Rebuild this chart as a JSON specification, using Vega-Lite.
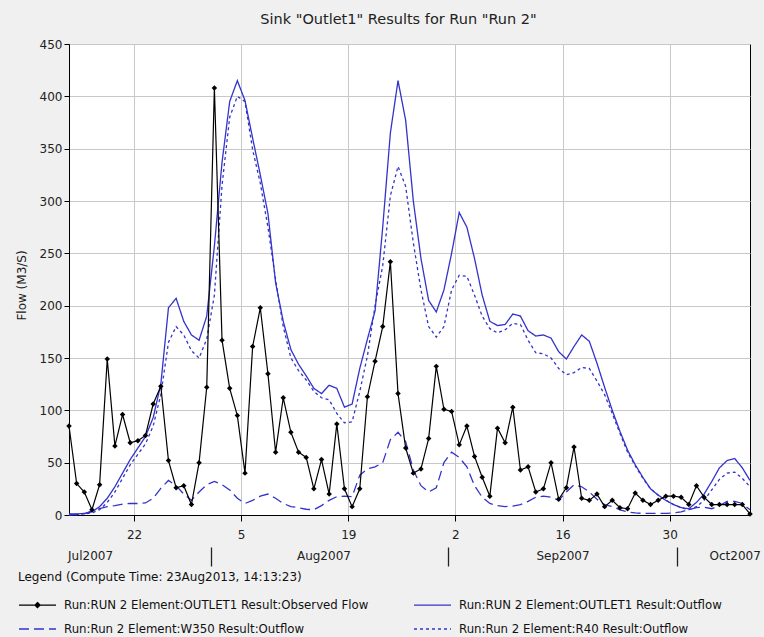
{
"$schema":"https://vega.github.io/schema/vega-lite/v6.json",
"width":681,"height":471,
"autosize":{"type":"none"},
"padding":{"left":69,"top":44,"right":14,"bottom":122},
"background":"#f0f0f0",
"title":{"text":"Sink \"Outlet1\" Results for Run \"Run 2\"","fontSize":14.5,"fontWeight":"normal","font":"DejaVu Sans","color":"#222","frame":"group","anchor":"middle","offset":11,"dx":-11},
"data":{"values":[
{"t":"2007-07-13T12:00","s":"obs","v":85},{"t":"2007-07-14T12:00","s":"obs","v":30},{"t":"2007-07-15T12:00","s":"obs","v":22},{"t":"2007-07-16T12:00","s":"obs","v":5},{"t":"2007-07-17T12:00","s":"obs","v":29},{"t":"2007-07-18T12:00","s":"obs","v":149},{"t":"2007-07-19T12:00","s":"obs","v":66},{"t":"2007-07-20T12:00","s":"obs","v":96},{"t":"2007-07-21T12:00","s":"obs","v":69},{"t":"2007-07-22T12:00","s":"obs","v":71},
{"t":"2007-07-23T12:00","s":"obs","v":76},{"t":"2007-07-24T12:00","s":"obs","v":106},{"t":"2007-07-25T12:00","s":"obs","v":123},{"t":"2007-07-26T12:00","s":"obs","v":52},{"t":"2007-07-27T12:00","s":"obs","v":26},{"t":"2007-07-28T12:00","s":"obs","v":28},{"t":"2007-07-29T12:00","s":"obs","v":10},{"t":"2007-07-30T12:00","s":"obs","v":50},{"t":"2007-07-31T12:00","s":"obs","v":122},{"t":"2007-08-01T12:00","s":"obs","v":408},
{"t":"2007-08-02T12:00","s":"obs","v":167},{"t":"2007-08-03T12:00","s":"obs","v":121},{"t":"2007-08-04T12:00","s":"obs","v":95},{"t":"2007-08-05T12:00","s":"obs","v":40},{"t":"2007-08-06T12:00","s":"obs","v":161},{"t":"2007-08-07T12:00","s":"obs","v":198},{"t":"2007-08-08T12:00","s":"obs","v":135},{"t":"2007-08-09T12:00","s":"obs","v":60},{"t":"2007-08-10T12:00","s":"obs","v":112},{"t":"2007-08-11T12:00","s":"obs","v":79},
{"t":"2007-08-12T12:00","s":"obs","v":60},{"t":"2007-08-13T12:00","s":"obs","v":55},{"t":"2007-08-14T12:00","s":"obs","v":25},{"t":"2007-08-15T12:00","s":"obs","v":53},{"t":"2007-08-16T12:00","s":"obs","v":20},{"t":"2007-08-17T12:00","s":"obs","v":87},{"t":"2007-08-18T12:00","s":"obs","v":25},{"t":"2007-08-19T12:00","s":"obs","v":8},{"t":"2007-08-20T12:00","s":"obs","v":25},{"t":"2007-08-21T12:00","s":"obs","v":113},
{"t":"2007-08-22T12:00","s":"obs","v":147},{"t":"2007-08-23T12:00","s":"obs","v":180},{"t":"2007-08-24T12:00","s":"obs","v":242},{"t":"2007-08-25T12:00","s":"obs","v":116},{"t":"2007-08-26T12:00","s":"obs","v":64},{"t":"2007-08-27T12:00","s":"obs","v":40},{"t":"2007-08-28T12:00","s":"obs","v":44},{"t":"2007-08-29T12:00","s":"obs","v":73},{"t":"2007-08-30T12:00","s":"obs","v":142},{"t":"2007-08-31T12:00","s":"obs","v":101},
{"t":"2007-09-01T12:00","s":"obs","v":99},{"t":"2007-09-02T12:00","s":"obs","v":67},{"t":"2007-09-03T12:00","s":"obs","v":85},{"t":"2007-09-04T12:00","s":"obs","v":56},{"t":"2007-09-05T12:00","s":"obs","v":36},{"t":"2007-09-06T12:00","s":"obs","v":18},{"t":"2007-09-07T12:00","s":"obs","v":83},{"t":"2007-09-08T12:00","s":"obs","v":69},{"t":"2007-09-09T12:00","s":"obs","v":103},{"t":"2007-09-10T12:00","s":"obs","v":43},
{"t":"2007-09-11T12:00","s":"obs","v":46},{"t":"2007-09-12T12:00","s":"obs","v":22},{"t":"2007-09-13T12:00","s":"obs","v":25},{"t":"2007-09-14T12:00","s":"obs","v":50},{"t":"2007-09-15T12:00","s":"obs","v":15},{"t":"2007-09-16T12:00","s":"obs","v":26},{"t":"2007-09-17T12:00","s":"obs","v":65},{"t":"2007-09-18T12:00","s":"obs","v":16},{"t":"2007-09-19T12:00","s":"obs","v":14},{"t":"2007-09-20T12:00","s":"obs","v":20},
{"t":"2007-09-21T12:00","s":"obs","v":8},{"t":"2007-09-22T12:00","s":"obs","v":14},{"t":"2007-09-23T12:00","s":"obs","v":7},{"t":"2007-09-24T12:00","s":"obs","v":6},{"t":"2007-09-25T12:00","s":"obs","v":21},{"t":"2007-09-26T12:00","s":"obs","v":14},{"t":"2007-09-27T12:00","s":"obs","v":10},{"t":"2007-09-28T12:00","s":"obs","v":14},{"t":"2007-09-29T12:00","s":"obs","v":18},{"t":"2007-09-30T12:00","s":"obs","v":18},
{"t":"2007-10-01T12:00","s":"obs","v":17},{"t":"2007-10-02T12:00","s":"obs","v":10},{"t":"2007-10-03T12:00","s":"obs","v":28},{"t":"2007-10-04T12:00","s":"obs","v":17},{"t":"2007-10-05T12:00","s":"obs","v":10},{"t":"2007-10-06T12:00","s":"obs","v":10},{"t":"2007-10-07T12:00","s":"obs","v":10},{"t":"2007-10-08T12:00","s":"obs","v":10},{"t":"2007-10-09T12:00","s":"obs","v":10},{"t":"2007-10-10T12:00","s":"obs","v":1},

{"t":"2007-07-13T12:00","s":"out","v":1},{"t":"2007-07-14T12:00","s":"out","v":1},{"t":"2007-07-15T12:00","s":"out","v":1.5},{"t":"2007-07-16T12:00","s":"out","v":3},{"t":"2007-07-17T12:00","s":"out","v":8},{"t":"2007-07-18T12:00","s":"out","v":16},{"t":"2007-07-19T12:00","s":"out","v":27},{"t":"2007-07-20T12:00","s":"out","v":40},{"t":"2007-07-21T12:00","s":"out","v":53},{"t":"2007-07-22T12:00","s":"out","v":64},
{"t":"2007-07-23T12:00","s":"out","v":75},{"t":"2007-07-24T12:00","s":"out","v":93},{"t":"2007-07-25T12:00","s":"out","v":125},{"t":"2007-07-26T12:00","s":"out","v":198},{"t":"2007-07-27T12:00","s":"out","v":207},{"t":"2007-07-28T12:00","s":"out","v":185},{"t":"2007-07-29T12:00","s":"out","v":172},{"t":"2007-07-30T12:00","s":"out","v":167},{"t":"2007-07-31T12:00","s":"out","v":190},{"t":"2007-08-01T12:00","s":"out","v":257},
{"t":"2007-08-02T12:00","s":"out","v":337},{"t":"2007-08-03T12:00","s":"out","v":395},{"t":"2007-08-04T12:00","s":"out","v":415},{"t":"2007-08-05T12:00","s":"out","v":396},{"t":"2007-08-06T12:00","s":"out","v":360},{"t":"2007-08-07T12:00","s":"out","v":325},{"t":"2007-08-08T12:00","s":"out","v":288},{"t":"2007-08-09T12:00","s":"out","v":222},{"t":"2007-08-10T12:00","s":"out","v":185},{"t":"2007-08-11T12:00","s":"out","v":158},
{"t":"2007-08-12T12:00","s":"out","v":144},{"t":"2007-08-13T12:00","s":"out","v":133},{"t":"2007-08-14T12:00","s":"out","v":121},{"t":"2007-08-15T12:00","s":"out","v":116},{"t":"2007-08-16T12:00","s":"out","v":124},{"t":"2007-08-17T12:00","s":"out","v":121},{"t":"2007-08-18T12:00","s":"out","v":103},{"t":"2007-08-19T12:00","s":"out","v":106},{"t":"2007-08-20T12:00","s":"out","v":140},{"t":"2007-08-21T12:00","s":"out","v":168},
{"t":"2007-08-22T12:00","s":"out","v":195},{"t":"2007-08-23T12:00","s":"out","v":275},{"t":"2007-08-24T12:00","s":"out","v":365},{"t":"2007-08-25T12:00","s":"out","v":415},{"t":"2007-08-26T12:00","s":"out","v":377},{"t":"2007-08-27T12:00","s":"out","v":300},{"t":"2007-08-28T12:00","s":"out","v":245},{"t":"2007-08-29T12:00","s":"out","v":205},{"t":"2007-08-30T12:00","s":"out","v":194},{"t":"2007-08-31T12:00","s":"out","v":215},
{"t":"2007-09-01T12:00","s":"out","v":250},{"t":"2007-09-02T12:00","s":"out","v":289},{"t":"2007-09-03T12:00","s":"out","v":275},{"t":"2007-09-04T12:00","s":"out","v":245},{"t":"2007-09-05T12:00","s":"out","v":210},{"t":"2007-09-06T12:00","s":"out","v":185},{"t":"2007-09-07T12:00","s":"out","v":181},{"t":"2007-09-08T12:00","s":"out","v":182},{"t":"2007-09-09T12:00","s":"out","v":192},{"t":"2007-09-10T12:00","s":"out","v":190},
{"t":"2007-09-11T12:00","s":"out","v":176},{"t":"2007-09-12T12:00","s":"out","v":171},{"t":"2007-09-13T12:00","s":"out","v":172},{"t":"2007-09-14T12:00","s":"out","v":169},{"t":"2007-09-15T12:00","s":"out","v":156},{"t":"2007-09-16T12:00","s":"out","v":149},{"t":"2007-09-17T12:00","s":"out","v":161},{"t":"2007-09-18T12:00","s":"out","v":172},{"t":"2007-09-19T12:00","s":"out","v":166},{"t":"2007-09-20T12:00","s":"out","v":145},
{"t":"2007-09-21T12:00","s":"out","v":122},{"t":"2007-09-22T12:00","s":"out","v":100},{"t":"2007-09-23T12:00","s":"out","v":80},{"t":"2007-09-24T12:00","s":"out","v":62},{"t":"2007-09-25T12:00","s":"out","v":48},{"t":"2007-09-26T12:00","s":"out","v":36},{"t":"2007-09-27T12:00","s":"out","v":25},{"t":"2007-09-28T12:00","s":"out","v":19},{"t":"2007-09-29T12:00","s":"out","v":14},{"t":"2007-09-30T12:00","s":"out","v":10},
{"t":"2007-10-01T12:00","s":"out","v":7},{"t":"2007-10-02T12:00","s":"out","v":6},{"t":"2007-10-03T12:00","s":"out","v":12},{"t":"2007-10-04T12:00","s":"out","v":20},{"t":"2007-10-05T12:00","s":"out","v":32},{"t":"2007-10-06T12:00","s":"out","v":45},{"t":"2007-10-07T12:00","s":"out","v":52},{"t":"2007-10-08T12:00","s":"out","v":54},{"t":"2007-10-09T12:00","s":"out","v":45},{"t":"2007-10-10T12:00","s":"out","v":33},

{"t":"2007-07-13T12:00","s":"r40","v":0.5},{"t":"2007-07-14T12:00","s":"r40","v":0.5},{"t":"2007-07-15T12:00","s":"r40","v":1},{"t":"2007-07-16T12:00","s":"r40","v":2},{"t":"2007-07-17T12:00","s":"r40","v":5},{"t":"2007-07-18T12:00","s":"r40","v":12},{"t":"2007-07-19T12:00","s":"r40","v":22},{"t":"2007-07-20T12:00","s":"r40","v":35},{"t":"2007-07-21T12:00","s":"r40","v":48},{"t":"2007-07-22T12:00","s":"r40","v":58},
{"t":"2007-07-23T12:00","s":"r40","v":68},{"t":"2007-07-24T12:00","s":"r40","v":85},{"t":"2007-07-25T12:00","s":"r40","v":115},{"t":"2007-07-26T12:00","s":"r40","v":165},{"t":"2007-07-27T12:00","s":"r40","v":180},{"t":"2007-07-28T12:00","s":"r40","v":172},{"t":"2007-07-29T12:00","s":"r40","v":157},{"t":"2007-07-30T12:00","s":"r40","v":150},{"t":"2007-07-31T12:00","s":"r40","v":168},{"t":"2007-08-01T12:00","s":"r40","v":210},
{"t":"2007-08-02T12:00","s":"r40","v":315},{"t":"2007-08-03T12:00","s":"r40","v":380},{"t":"2007-08-04T12:00","s":"r40","v":400},{"t":"2007-08-05T12:00","s":"r40","v":395},{"t":"2007-08-06T12:00","s":"r40","v":349},{"t":"2007-08-07T12:00","s":"r40","v":317},{"t":"2007-08-08T12:00","s":"r40","v":275},{"t":"2007-08-09T12:00","s":"r40","v":225},{"t":"2007-08-10T12:00","s":"r40","v":180},{"t":"2007-08-11T12:00","s":"r40","v":150},
{"t":"2007-08-12T12:00","s":"r40","v":138},{"t":"2007-08-13T12:00","s":"r40","v":129},{"t":"2007-08-14T12:00","s":"r40","v":118},{"t":"2007-08-15T12:00","s":"r40","v":112},{"t":"2007-08-16T12:00","s":"r40","v":110},{"t":"2007-08-17T12:00","s":"r40","v":97},{"t":"2007-08-18T12:00","s":"r40","v":88},{"t":"2007-08-19T12:00","s":"r40","v":89},{"t":"2007-08-20T12:00","s":"r40","v":118},{"t":"2007-08-21T12:00","s":"r40","v":152},
{"t":"2007-08-22T12:00","s":"r40","v":200},{"t":"2007-08-23T12:00","s":"r40","v":238},{"t":"2007-08-24T12:00","s":"r40","v":305},{"t":"2007-08-25T12:00","s":"r40","v":333},{"t":"2007-08-26T12:00","s":"r40","v":314},{"t":"2007-08-27T12:00","s":"r40","v":260},{"t":"2007-08-28T12:00","s":"r40","v":215},{"t":"2007-08-29T12:00","s":"r40","v":180},{"t":"2007-08-30T12:00","s":"r40","v":170},{"t":"2007-08-31T12:00","s":"r40","v":180},
{"t":"2007-09-01T12:00","s":"r40","v":215},{"t":"2007-09-02T12:00","s":"r40","v":229},{"t":"2007-09-03T12:00","s":"r40","v":228},{"t":"2007-09-04T12:00","s":"r40","v":210},{"t":"2007-09-05T12:00","s":"r40","v":190},{"t":"2007-09-06T12:00","s":"r40","v":178},{"t":"2007-09-07T12:00","s":"r40","v":174},{"t":"2007-09-08T12:00","s":"r40","v":177},{"t":"2007-09-09T12:00","s":"r40","v":183},{"t":"2007-09-10T12:00","s":"r40","v":182},
{"t":"2007-09-11T12:00","s":"r40","v":167},{"t":"2007-09-12T12:00","s":"r40","v":155},{"t":"2007-09-13T12:00","s":"r40","v":154},{"t":"2007-09-14T12:00","s":"r40","v":150},{"t":"2007-09-15T12:00","s":"r40","v":140},{"t":"2007-09-16T12:00","s":"r40","v":134},{"t":"2007-09-17T12:00","s":"r40","v":136},{"t":"2007-09-18T12:00","s":"r40","v":141},{"t":"2007-09-19T12:00","s":"r40","v":140},{"t":"2007-09-20T12:00","s":"r40","v":128},
{"t":"2007-09-21T12:00","s":"r40","v":115},{"t":"2007-09-22T12:00","s":"r40","v":97},{"t":"2007-09-23T12:00","s":"r40","v":78},{"t":"2007-09-24T12:00","s":"r40","v":60},{"t":"2007-09-25T12:00","s":"r40","v":47},{"t":"2007-09-26T12:00","s":"r40","v":35},{"t":"2007-09-27T12:00","s":"r40","v":25},{"t":"2007-09-28T12:00","s":"r40","v":19},{"t":"2007-09-29T12:00","s":"r40","v":14},{"t":"2007-09-30T12:00","s":"r40","v":10},
{"t":"2007-10-01T12:00","s":"r40","v":7},{"t":"2007-10-02T12:00","s":"r40","v":5},{"t":"2007-10-03T12:00","s":"r40","v":8},{"t":"2007-10-04T12:00","s":"r40","v":14},{"t":"2007-10-05T12:00","s":"r40","v":24},{"t":"2007-10-06T12:00","s":"r40","v":34},{"t":"2007-10-07T12:00","s":"r40","v":40},{"t":"2007-10-08T12:00","s":"r40","v":41},{"t":"2007-10-09T12:00","s":"r40","v":35},{"t":"2007-10-10T12:00","s":"r40","v":27},

{"t":"2007-07-13T12:00","s":"w350","v":0},{"t":"2007-07-14T12:00","s":"w350","v":0.5},{"t":"2007-07-15T12:00","s":"w350","v":1},{"t":"2007-07-16T12:00","s":"w350","v":4},{"t":"2007-07-17T12:00","s":"w350","v":6},{"t":"2007-07-18T12:00","s":"w350","v":8},{"t":"2007-07-19T12:00","s":"w350","v":9},{"t":"2007-07-20T12:00","s":"w350","v":10.5},{"t":"2007-07-21T12:00","s":"w350","v":11},{"t":"2007-07-22T12:00","s":"w350","v":11},
{"t":"2007-07-23T12:00","s":"w350","v":11.5},{"t":"2007-07-24T12:00","s":"w350","v":16},{"t":"2007-07-25T12:00","s":"w350","v":25.5},{"t":"2007-07-26T12:00","s":"w350","v":33},{"t":"2007-07-27T12:00","s":"w350","v":28},{"t":"2007-07-28T12:00","s":"w350","v":20},{"t":"2007-07-29T12:00","s":"w350","v":14},{"t":"2007-07-30T12:00","s":"w350","v":22},{"t":"2007-07-31T12:00","s":"w350","v":29},{"t":"2007-08-01T12:00","s":"w350","v":32},
{"t":"2007-08-02T12:00","s":"w350","v":29},{"t":"2007-08-03T12:00","s":"w350","v":24},{"t":"2007-08-04T12:00","s":"w350","v":16},{"t":"2007-08-05T12:00","s":"w350","v":11},{"t":"2007-08-06T12:00","s":"w350","v":14},{"t":"2007-08-07T12:00","s":"w350","v":18},{"t":"2007-08-08T12:00","s":"w350","v":20},{"t":"2007-08-09T12:00","s":"w350","v":16},{"t":"2007-08-10T12:00","s":"w350","v":11},{"t":"2007-08-11T12:00","s":"w350","v":8},
{"t":"2007-08-12T12:00","s":"w350","v":7},{"t":"2007-08-13T12:00","s":"w350","v":5.5},{"t":"2007-08-14T12:00","s":"w350","v":5},{"t":"2007-08-15T12:00","s":"w350","v":9},{"t":"2007-08-16T12:00","s":"w350","v":14},{"t":"2007-08-17T12:00","s":"w350","v":17.5},{"t":"2007-08-18T12:00","s":"w350","v":18},{"t":"2007-08-19T12:00","s":"w350","v":17.5},{"t":"2007-08-20T12:00","s":"w350","v":38},{"t":"2007-08-21T12:00","s":"w350","v":44},
{"t":"2007-08-22T12:00","s":"w350","v":46},{"t":"2007-08-23T12:00","s":"w350","v":50},{"t":"2007-08-24T12:00","s":"w350","v":72},{"t":"2007-08-25T12:00","s":"w350","v":79},{"t":"2007-08-26T12:00","s":"w350","v":70},{"t":"2007-08-27T12:00","s":"w350","v":43},{"t":"2007-08-28T12:00","s":"w350","v":28},{"t":"2007-08-29T12:00","s":"w350","v":22},{"t":"2007-08-30T12:00","s":"w350","v":26},{"t":"2007-08-31T12:00","s":"w350","v":50},
{"t":"2007-09-01T12:00","s":"w350","v":60},{"t":"2007-09-02T12:00","s":"w350","v":55},{"t":"2007-09-03T12:00","s":"w350","v":46},{"t":"2007-09-04T12:00","s":"w350","v":28},{"t":"2007-09-05T12:00","s":"w350","v":17},{"t":"2007-09-06T12:00","s":"w350","v":11},{"t":"2007-09-07T12:00","s":"w350","v":9},{"t":"2007-09-08T12:00","s":"w350","v":8},{"t":"2007-09-09T12:00","s":"w350","v":8.5},{"t":"2007-09-10T12:00","s":"w350","v":10},
{"t":"2007-09-11T12:00","s":"w350","v":13},{"t":"2007-09-12T12:00","s":"w350","v":17},{"t":"2007-09-13T12:00","s":"w350","v":18},{"t":"2007-09-14T12:00","s":"w350","v":17},{"t":"2007-09-15T12:00","s":"w350","v":14},{"t":"2007-09-16T12:00","s":"w350","v":22},{"t":"2007-09-17T12:00","s":"w350","v":29},{"t":"2007-09-18T12:00","s":"w350","v":27},{"t":"2007-09-19T12:00","s":"w350","v":22},{"t":"2007-09-20T12:00","s":"w350","v":15},
{"t":"2007-09-21T12:00","s":"w350","v":10},{"t":"2007-09-22T12:00","s":"w350","v":8},{"t":"2007-09-23T12:00","s":"w350","v":5},{"t":"2007-09-24T12:00","s":"w350","v":3},{"t":"2007-09-25T12:00","s":"w350","v":2},{"t":"2007-09-26T12:00","s":"w350","v":1.5},{"t":"2007-09-27T12:00","s":"w350","v":1.5},{"t":"2007-09-28T12:00","s":"w350","v":1.5},{"t":"2007-09-29T12:00","s":"w350","v":1.5},{"t":"2007-09-30T12:00","s":"w350","v":2},
{"t":"2007-10-01T12:00","s":"w350","v":3},{"t":"2007-10-02T12:00","s":"w350","v":5},{"t":"2007-10-03T12:00","s":"w350","v":7},{"t":"2007-10-04T12:00","s":"w350","v":7.5},{"t":"2007-10-05T12:00","s":"w350","v":6},{"t":"2007-10-06T12:00","s":"w350","v":9},{"t":"2007-10-07T12:00","s":"w350","v":13},{"t":"2007-10-08T12:00","s":"w350","v":13},{"t":"2007-10-09T12:00","s":"w350","v":11},{"t":"2007-10-10T12:00","s":"w350","v":5}
]},
"layer":[
{"transform":[{"filter":"datum.s != 'obs'"}],
 "mark":{"type":"line","strokeWidth":1.3},
 "encoding":{
  "x":{"field":"t","type":"temporal","scale":{"domain":[{"year":2007,"month":7,"date":13,"hours":12},{"year":2007,"month":10,"date":10,"hours":12}],"nice":false},
   "axis":{"orient":"bottom","title":null,"values":[{"year":2007,"month":7,"date":22},{"year":2007,"month":8,"date":5},{"year":2007,"month":8,"date":19},{"year":2007,"month":9,"date":2},{"year":2007,"month":9,"date":16},{"year":2007,"month":9,"date":30}],"format":"%-d","grid":true,"gridColor":"#c8c8c8","tickSize":6,"tickColor":"#000","domainColor":"#000","labelPadding":8,"labelFontSize":12,"labelFlush":false,"labelOverlap":false}},
  "y":{"field":"v","type":"quantitative","scale":{"domain":[0,450],"nice":false},
   "axis":{"orient":"left","title":"Flow (M3/S)","titleFontWeight":"normal","titleFontSize":12,"titleX":-48,"titleY":241,"titleBaseline":"middle","values":[0,50,100,150,200,250,300,350,400,450],"labelFontSize":12,"tickSize":5,"grid":true,"gridColor":"#c8c8c8","domainColor":"#000","tickColor":"#000","labelPadding":2}},
  "color":{"field":"s","type":"nominal","scale":{"domain":["obs","w350","out","r40"],"range":["#000000","#3333cc","#3333cc","#3333cc"]},
   "legend":{"title":"Legend (Compute Time: 23Aug2013, 14:13:23)","orient":"none","legendX":-51,"legendY":528,"direction":"vertical","columns":2,"columnPadding":42,"rowPadding":11,"titlePadding":15,"titleLimit":700,"titleFontWeight":"normal","titleFontSize":12,"titleFont":"DejaVu Sans","titleColor":"#111","labelFont":"DejaVu Sans","labelFontSize":11.75,"labelColor":"#111","labelLimit":600,"labelOffset":34,"symbolSize":100,"symbolStrokeWidth":1.3,
    "labelExpr":"datum.value == 'obs' ? 'Run:RUN 2 Element:OUTLET1 Result:Observed Flow' : datum.value == 'out' ? 'Run:RUN 2 Element:OUTLET1 Result:Outflow' : datum.value == 'w350' ? 'Run:Run 2 Element:W350 Result:Outflow' : 'Run:Run 2 Element:R40 Result:Outflow'",
    "encode":{"symbols":{"update":{"shape":{"signal":"datum.value === 'obs' ? 'M-1,0L6.4,0M2.7,-0.5L3.2,0L2.7,0.5L2.2,0Z' : 'M-1,0L6.4,0'"},"fill":{"signal":"datum.value === 'obs' ? '#000' : 'transparent'"}}}}}},
  "strokeDash":{"field":"s","type":"nominal","scale":{"domain":["obs","w350","out","r40"],"range":[[1,0],[10,5],[1,0],[3,3]]},
   "legend":{"title":"Legend (Compute Time: 23Aug2013, 14:13:23)","orient":"none","legendX":-51,"legendY":528,"direction":"vertical","columns":2,"columnPadding":42,"rowPadding":11,"titlePadding":15,"titleLimit":700,"titleFontWeight":"normal","titleFontSize":12,"titleFont":"DejaVu Sans","titleColor":"#111","labelFont":"DejaVu Sans","labelFontSize":11.75,"labelColor":"#111","labelLimit":600,"labelOffset":34,"symbolSize":100,"symbolStrokeWidth":1.3,
    "labelExpr":"datum.value == 'obs' ? 'Run:RUN 2 Element:OUTLET1 Result:Observed Flow' : datum.value == 'out' ? 'Run:RUN 2 Element:OUTLET1 Result:Outflow' : datum.value == 'w350' ? 'Run:Run 2 Element:W350 Result:Outflow' : 'Run:Run 2 Element:R40 Result:Outflow'",
    "encode":{"symbols":{"update":{"shape":{"signal":"datum.value === 'obs' ? 'M-1,0L6.4,0M2.7,-0.5L3.2,0L2.7,0.5L2.2,0Z' : 'M-1,0L6.4,0'"},"fill":{"signal":"datum.value === 'obs' ? '#000' : 'transparent'"}}}}}}
 }},
{"transform":[{"filter":"datum.s == 'obs'"}],
 "mark":{"type":"line","strokeWidth":1.2},
 "encoding":{
  "x":{"field":"t","type":"temporal","scale":{"domain":[{"year":2007,"month":7,"date":13,"hours":12},{"year":2007,"month":10,"date":10,"hours":12}],"nice":false},
   "axis":{"orient":"bottom","title":null,"values":[{"year":2007,"month":7,"date":16,"hours":6},{"year":2007,"month":8,"date":15,"hours":18},{"year":2007,"month":9,"date":16},{"year":2007,"month":10,"date":8,"hours":12}],"format":"%b%Y","ticks":false,"domain":false,"grid":false,"offset":35,"labelPadding":0,"labelFontSize":12,"labelFlush":false,"labelOverlap":false}},
  "y":{"field":"v","type":"quantitative"},
  "color":{"field":"s","type":"nominal","scale":{"domain":["obs","w350","out","r40"],"range":["#000000","#3333cc","#3333cc","#3333cc"]}}
 }},
{"transform":[{"filter":"datum.s == 'obs'"}],
 "mark":{"type":"point","shape":"diamond","filled":true,"size":30,"color":"#000","opacity":1},
 "encoding":{
  "x":{"field":"t","type":"temporal","scale":{"domain":[{"year":2007,"month":7,"date":13,"hours":12},{"year":2007,"month":10,"date":10,"hours":12}],"nice":false},
   "axis":{"orient":"bottom","title":null,"values":[{"year":2007,"month":8,"date":1},{"year":2007,"month":9,"date":1},{"year":2007,"month":10,"date":1}],"labels":false,"domain":false,"grid":false,"ticks":true,"tickSize":19,"tickWidth":1.3,"tickColor":"#222","offset":32}},
  "y":{"field":"v","type":"quantitative"}
 }}
],
"resolve":{"axis":{"x":"independent"}},
"config":{"font":"DejaVu Sans","view":{"fill":"white","stroke":"#000","strokeWidth":1},"axis":{"labelColor":"#222","labelFont":"DejaVu Sans","titleFont":"DejaVu Sans","titleColor":"#222"}}
}
